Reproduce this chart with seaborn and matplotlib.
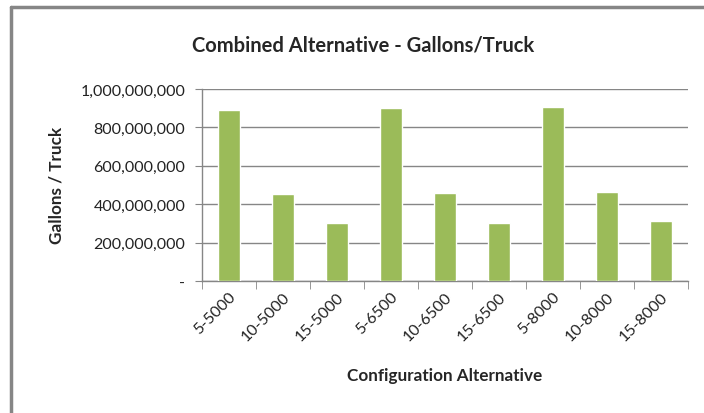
import numpy as np
import pandas as pd
import seaborn as sns
import matplotlib.pyplot as plt
from matplotlib.lines import Line2D
from matplotlib.ticker import FuncFormatter

configs = ['5-5000', '10-5000', '15-5000', '5-6500', '10-6500', '15-6500',
           '5-8000', '10-8000', '15-8000']
gallons = [891e6, 451e6, 303e6, 899e6, 457e6, 303e6, 905e6, 463e6, 310e6]

df = pd.DataFrame({'config': configs, 'gallons': gallons})

sns.set_style('white')
plt.rcParams['font.family'] = ['Lato', 'DejaVu Sans']

fig = plt.figure(figsize=(7.04, 4.14), dpi=100)
ax = fig.add_axes([202 / 704, 1 - 282 / 414, 486 / 704, 192 / 414])

sns.barplot(data=df, x='config', y='gallons', color='#9BBB59', width=0.41,
            saturation=1, ax=ax, zorder=3)

ax.set_ylim(0, 1e9)
ax.set_xlim(-0.5, len(configs) - 0.5)
ax.set_yticks(np.arange(0, 1.01e9, 2e8))
ax.yaxis.set_major_formatter(FuncFormatter(lambda v, p: '-' if v == 0 else f'{v:,.0f}'))
ax.grid(axis='y', color='#868686', linewidth=1, zorder=0)
ax.set_axisbelow(True)

for s in ['top', 'right']:
    ax.spines[s].set_visible(False)
for s in ['left', 'bottom']:
    ax.spines[s].set_color('#868686')
    ax.spines[s].set_linewidth(1)

ax.tick_params(axis='y', length=5, color='#868686', labelsize=11.5, labelcolor='#222222', pad=7, left=True)
ax.set_xticks(range(len(configs)))
ax.set_xticklabels(configs, rotation=45, ha='right', rotation_mode='anchor',
                   fontsize=11.5, color='#222222')
ax.tick_params(axis='x', which='major', length=0, pad=6)
ax.set_xticks(np.arange(-0.5, len(configs)), minor=True)
ax.tick_params(axis='x', which='minor', length=6, color='#868686', bottom=True)

ax.set_xlabel('')
ax.set_ylabel('')
fig.text(445 / 704, 1 - 376 / 414, 'Configuration Alternative', ha='center', va='center',
         fontsize=12.3, fontweight='bold')
fig.text(57 / 704, 1 - 185 / 414, 'Gallons / Truck', ha='center', va='center',
         rotation=90, fontsize=12.3, fontweight='bold')
fig.text(363 / 704, 1 - 45 / 414, 'Combined Alternative - Gallons/Truck', ha='center',
         va='center', fontsize=14.5, fontweight='bold')

# chart frame (left and top edges visible in the source)
fig.add_artist(Line2D([11 / 704, 11 / 704], [0, 1 - 8 / 414], color='#868686', linewidth=2.5,
                      transform=fig.transFigure))
fig.add_artist(Line2D([11 / 704, 1], [1 - 8 / 414, 1 - 8 / 414], color='#868686', linewidth=2.5,
                      transform=fig.transFigure))

fig.savefig('out.png', dpi=100)
